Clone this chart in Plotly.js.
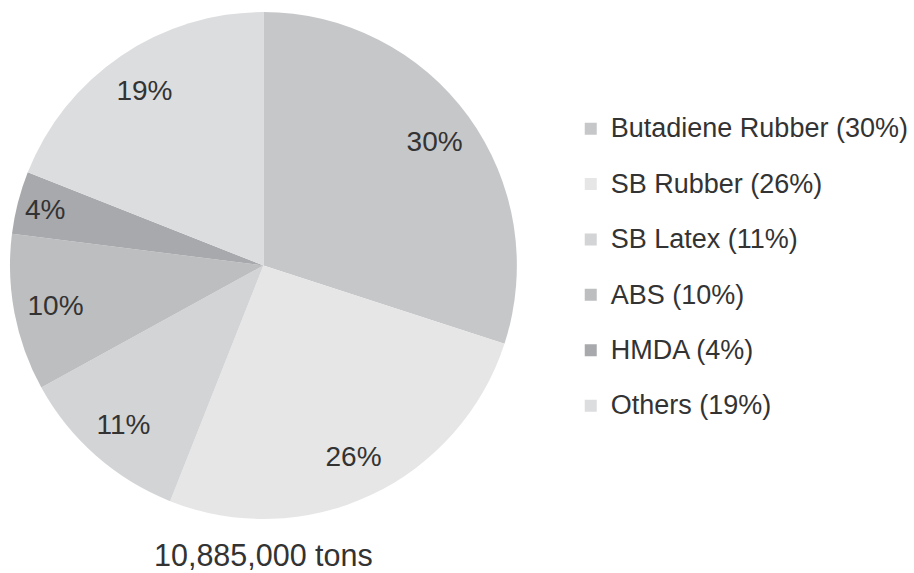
<!DOCTYPE html>
<html>
<head>
<meta charset="utf-8">
<script src="https://cdn.plot.ly/plotly-3.0.1.min.js"></script>
<style>html,body{margin:0;padding:0;background:#fff;}#chart{width:914px;height:573px;}</style>
</head>
<body>
<div id="chart"></div>
<script>
const categories = ["Butadiene Rubber", "SB Rubber", "SB Latex", "ABS", "HMDA", "Others"];
const shares = [30, 26, 11, 10, 4, 19];
const sliceColors = ["#c6c7c9", "#e6e6e7", "#d3d4d6", "#bdbec0", "#a8a9ac", "#dcdddf"];
const totalLabel = "10,885,000 tons";

const W = 914, H = 573;
const pieDomain = {x: [10 / W, 518 / W], y: [1 - 519 / H, 1 - 12 / H]};
const legendLabels = categories.map((c, i) =>
  '<span style="font-size:27px;baseline-shift:7px">' + c + ' (' + shares[i] + '%)</span>');

const pieTrace = {
  type: 'pie',
  labels: legendLabels,
  values: shares,
  textinfo: 'none',
  sort: false,
  direction: 'clockwise',
  rotation: 0,
  marker: {colors: sliceColors, line: {width: 0}},
  domain: pieDomain,
  hoverinfo: 'none'
};

// transparent ring on top, only to place the percentage labels near the rim
const labelRing = {
  type: 'pie',
  labels: categories,
  values: shares,
  text: shares.map(v => v + '%'),
  textinfo: 'text',
  textposition: 'inside',
  insidetextorientation: 'horizontal',
  hole: 0.67,
  sort: false,
  direction: 'clockwise',
  rotation: 0,
  showlegend: false,
  marker: {colors: shares.map(() => 'rgba(0,0,0,0)'), line: {width: 0}},
  textfont: {family: 'Liberation Sans, Arial, sans-serif', size: 28, color: '#333333'},
  domain: pieDomain,
  hoverinfo: 'none'
};

const layout = {
  width: W, height: H,
  margin: {l: 0, r: 0, t: 0, b: 0},
  paper_bgcolor: '#ffffff',
  font: {family: 'Liberation Sans, Arial, sans-serif', color: '#333333'},
  showlegend: true,
  legend: {
    x: 572 / W, xanchor: 'left',
    y: 1 - 96 / H, yanchor: 'top',
    font: {size: 40.3, color: '#333333'},
    bgcolor: 'rgba(0,0,0,0)'
  },
  annotations: [{
    text: totalLabel,
    xref: 'paper', yref: 'paper',
    x: 264 / W, y: 1 - 555 / H,
    xanchor: 'center', yanchor: 'middle',
    showarrow: false,
    font: {size: 30.5, color: '#333333'}
  }]
};

Plotly.newPlot('chart', [pieTrace, labelRing], layout, {displayModeBar: false, staticPlot: true});
</script>
</body>
</html>
